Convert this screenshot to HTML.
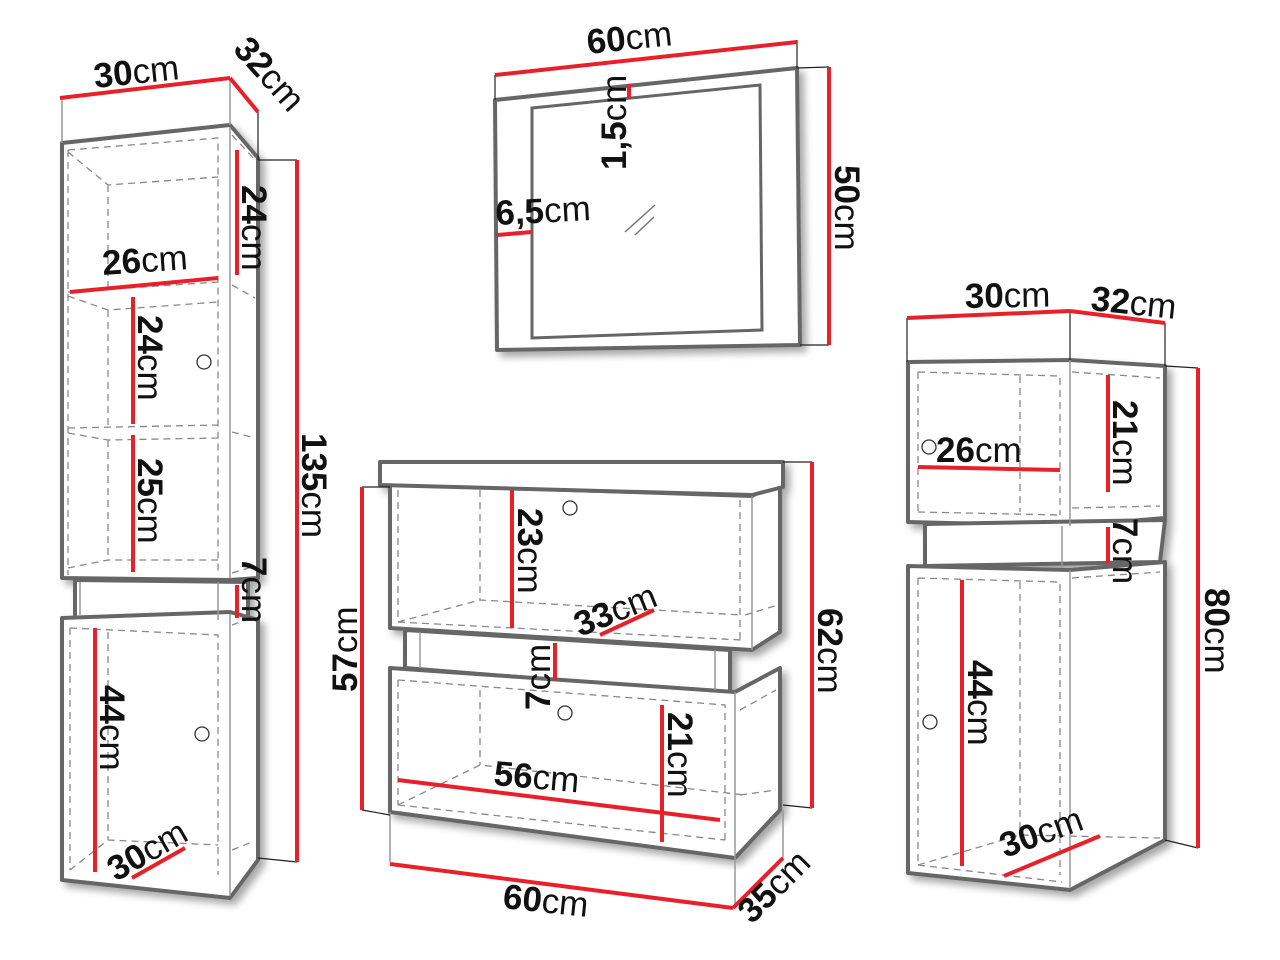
<!DOCTYPE html>
<html><head><meta charset="utf-8"><style>
html,body{margin:0;padding:0;background:#fff}
svg{display:block}
text{font-family:"Liberation Sans",sans-serif;font-size:35px;fill:#111}
.b{font-weight:bold}
.o{fill:#fff;stroke:#666;stroke-width:4;stroke-linejoin:round}
.i{fill:none;stroke:#999;stroke-width:1.5}
.d{fill:none;stroke:#888;stroke-width:1.3;stroke-dasharray:7 5}
.r{stroke:#e8202a;stroke-width:4;fill:none}
.k{stroke:#222;stroke-width:1.2;fill:none}
</style></head><body>
<svg width="1280" height="960" viewBox="0 0 1280 960" xmlns="http://www.w3.org/2000/svg">
<defs><filter id="s" x="-10%" y="-10%" width="130%" height="130%"><feGaussianBlur in="SourceAlpha" stdDeviation="4"/><feOffset dx="5" dy="5"/><feComponentTransfer><feFuncA type="linear" slope="0.35"/></feComponentTransfer><feMerge><feMergeNode/><feMergeNode in="SourceGraphic"/></feMerge></filter></defs>

<!-- ============ LEFT TALL CABINET ============ -->
<g filter="url(#s)">
<polygon class="o" points="62,143 230,125 258,158 258,578 230,580 62,578"/>
<polygon class="o" points="75,580 248,582 248,620 75,618"/>
<polygon class="o" points="62,618 230,612 258,620 258,860 230,898 62,880"/>
</g>
<line class="i" x1="230" y1="127" x2="230" y2="578"/>
<line class="i" x1="230" y1="614" x2="230" y2="896"/>
<line class="i" x1="62" y1="143" x2="62" y2="98"/><line class="i" x1="230" y1="125" x2="230" y2="78"/>
<line class="k" x1="258" y1="112" x2="258" y2="160"/>
<line class="i" x1="80" y1="582" x2="80" y2="616"/><line class="i" x1="218" y1="582" x2="218" y2="620"/>
<path class="d" d="M68,150 L218,138 L218,575 M68,150 L68,575 M68,152 L108,185 L218,177 M108,185 L108,290 M68,292 L218,282 M68,296 L108,310 L218,302 M108,310 L108,425 M68,428 L218,425 M68,433 L108,440 L218,438 M108,440 L108,560 M68,568 L108,560 L218,560 M232,135 L255,160 M232,285 L255,298 M232,432 L255,438 M232,573 L255,566"/>
<path class="d" d="M70,628 L218,635 L218,875 M70,628 L70,870 M108,632 L108,840 M70,870 L108,840 L218,845 M232,625 L252,618 M232,850 L252,842"/>
<circle cx="204" cy="362" r="7" fill="#fff" stroke="#333" stroke-width="1.3"/>
<circle cx="202" cy="734" r="7" fill="#fff" stroke="#333" stroke-width="1.3"/>
<line class="k" x1="258" y1="160" x2="297" y2="160"/><line class="k" x1="258" y1="858" x2="297" y2="862"/>
<line class="r" x1="60" y1="98" x2="230" y2="78"/>
<line class="r" x1="230" y1="78" x2="258" y2="112"/>
<line class="r" x1="70" y1="292" x2="218" y2="278"/>
<line class="r" x1="237" y1="150" x2="237" y2="275"/>
<line class="r" x1="133" y1="297" x2="133" y2="424"/>
<line class="r" x1="133" y1="435" x2="133" y2="572"/>
<line class="r" x1="237" y1="585" x2="237" y2="618"/>
<line class="r" x1="95" y1="628" x2="95" y2="872"/>
<line class="r" x1="132" y1="878" x2="185" y2="848"/>
<line class="r" x1="297" y1="160" x2="297" y2="862"/>
<text transform="translate(95,88) rotate(-6)"><tspan class="b">30</tspan>cm</text>
<text transform="translate(232,50) rotate(48)"><tspan class="b">32</tspan>cm</text>
<text transform="translate(103,275) rotate(-4)"><tspan class="b">26</tspan>cm</text>
<text transform="translate(242,185) rotate(90)"><tspan class="b">24</tspan>cm</text>
<text transform="translate(138,315) rotate(90)"><tspan class="b">24</tspan>cm</text>
<text transform="translate(138,458) rotate(90)"><tspan class="b">25</tspan>cm</text>
<text transform="translate(242,557) rotate(90)"><tspan class="b">7</tspan>cm</text>
<text transform="translate(100,685) rotate(90)"><tspan class="b">44</tspan>cm</text>
<text transform="translate(116,882) rotate(-30)"><tspan class="b">30</tspan>cm</text>
<text transform="translate(302,433) rotate(90)"><tspan class="b">135</tspan>cm</text>

<!-- ============ MIRROR ============ -->
<g filter="url(#s)">
<polygon class="o" points="495,100 797,68 800,345 497,350"/>
</g>
<polygon fill="none" stroke="#666" stroke-width="3" points="532,108 760,85 762,330 532,338"/>
<line class="k" x1="495" y1="75" x2="495" y2="100"/><line class="k" x1="797" y1="40" x2="797" y2="68"/>
<line class="k" x1="797" y1="68" x2="829" y2="67"/><line class="k" x1="800" y1="345" x2="829" y2="345"/>
<path d="M625,232 L655,205 M635,235 L654,217" stroke="#777" stroke-width="1.5"/>
<line class="r" x1="495" y1="75" x2="797" y2="42"/>
<line class="r" x1="829" y1="67" x2="829" y2="345"/>
<line class="r" x1="629" y1="84" x2="629" y2="98"/>
<line class="r" x1="497" y1="235" x2="532" y2="232"/>
<text transform="translate(588,54) rotate(-6)"><tspan class="b">60</tspan>cm</text>
<text transform="translate(626,170) rotate(-90)"><tspan class="b">1,5</tspan>cm</text>
<text transform="translate(496,225) rotate(-3)"><tspan class="b">6,5</tspan>cm</text>
<text transform="translate(835,165) rotate(90)"><tspan class="b">50</tspan>cm</text>

<!-- ============ MIDDLE UNIT ============ -->
<g filter="url(#s)">
<polygon class="o" points="390,484 752,496 780,480 780,632 752,650 390,628"/>
<polygon class="o" points="405,630 730,650 730,694 405,668"/>
<polygon class="o" points="390,668 735,692 780,668 780,810 735,858 390,812"/>
<polygon class="o" points="380,462 783,462 783,487 752,495 380,485"/>
</g>
<line class="i" x1="752" y1="496" x2="752" y2="650"/><line class="i" x1="735" y1="692" x2="735" y2="858"/>
<line class="i" x1="420" y1="632" x2="420" y2="668"/><line class="i" x1="715" y1="650" x2="715" y2="690"/>
<line class="i" x1="390" y1="812" x2="390" y2="862"/><line class="i" x1="735" y1="858" x2="735" y2="905"/>
<line class="i" x1="783" y1="810" x2="783" y2="858"/>
<path class="d" d="M398,490 L398,622 M480,490 L480,600 M398,622 L480,600 L742,615 M398,622 L742,640 M740,500 L740,640 M745,615 L778,605"/>
<path class="d" d="M398,680 L725,705 L725,845 M398,680 L398,805 M480,690 L480,765 M398,805 L480,765 L745,795 M398,805 L725,840 M740,710 L776,690 M740,795 L776,790"/>
<circle cx="570" cy="508" r="7" fill="#fff" stroke="#333" stroke-width="1.3"/>
<circle cx="565" cy="713" r="7" fill="#fff" stroke="#333" stroke-width="1.3"/>
<line class="k" x1="362" y1="487" x2="390" y2="487"/><line class="k" x1="362" y1="810" x2="390" y2="815"/>
<line class="k" x1="783" y1="462" x2="812" y2="462"/><line class="k" x1="783" y1="805" x2="812" y2="808"/>
<line class="r" x1="362" y1="487" x2="362" y2="810"/>
<line class="r" x1="812" y1="462" x2="812" y2="808"/>
<line class="r" x1="512" y1="490" x2="512" y2="628"/>
<line class="r" x1="600" y1="635" x2="654" y2="610"/>
<line class="r" x1="555" y1="643" x2="555" y2="680"/>
<line class="r" x1="398" y1="780" x2="720" y2="820"/>
<line class="r" x1="662" y1="705" x2="662" y2="842"/>
<line class="r" x1="390" y1="864" x2="733" y2="908"/>
<line class="r" x1="733" y1="908" x2="783" y2="858"/>
<text transform="translate(518,508) rotate(90)"><tspan class="b">23</tspan>cm</text>
<text transform="translate(580,637) rotate(-22)"><tspan class="b">33</tspan>cm</text>
<text transform="translate(550,710) rotate(-90)"><tspan class="b">7</tspan>cm</text>
<text transform="translate(493,785) rotate(5)"><tspan class="b">56</tspan>cm</text>
<text transform="translate(668,712) rotate(90)"><tspan class="b">21</tspan>cm</text>
<text transform="translate(357,692) rotate(-90)"><tspan class="b">57</tspan>cm</text>
<text transform="translate(818,608) rotate(90)"><tspan class="b">62</tspan>cm</text>
<text transform="translate(502,908) rotate(6)"><tspan class="b">60</tspan>cm</text>
<text transform="translate(752,925) rotate(-45)"><tspan class="b">35</tspan>cm</text>

<!-- ============ RIGHT UNIT ============ -->
<g filter="url(#s)">
<polygon class="o" points="908,362 1070,360 1165,366 1165,518 1070,526 908,522"/>
<polygon class="o" points="925,524 1165,520 1160,562 925,566"/>
<polygon class="o" points="908,566 1070,570 1165,562 1165,840 1070,890 908,873"/>
</g>
<line class="i" x1="1070" y1="360" x2="1070" y2="526"/><line class="i" x1="1070" y1="570" x2="1070" y2="888"/>
<line class="i" x1="1062" y1="526" x2="1062" y2="568"/>
<line class="k" x1="907" y1="318" x2="907" y2="362"/><line class="k" x1="1070" y1="311" x2="1070" y2="360"/>
<line class="k" x1="1165" y1="323" x2="1165" y2="366"/>
<line class="k" x1="1165" y1="366" x2="1198" y2="368"/><line class="k" x1="1165" y1="840" x2="1198" y2="848"/>
<path class="d" d="M918,372 L1060,376 L1060,515 M918,372 L918,512 M1020,376 L1020,512 M918,512 L1060,515 M1072,372 L1160,378 M1072,508 L1160,506"/>
<path class="d" d="M918,578 L1060,582 L1060,875 M918,578 L918,865 M1020,582 L1020,835 M918,865 L1020,835 L1160,838 M918,865 L1062,882 M1072,578 L1160,572"/>
<circle cx="929" cy="447" r="7" fill="#fff" stroke="#333" stroke-width="1.3"/>
<circle cx="930" cy="722" r="7" fill="#fff" stroke="#333" stroke-width="1.3"/>
<line class="r" x1="907" y1="318" x2="1070" y2="311"/>
<line class="r" x1="1070" y1="311" x2="1165" y2="323"/>
<line class="r" x1="918" y1="467" x2="1060" y2="470"/>
<line class="r" x1="1108" y1="375" x2="1108" y2="492"/>
<line class="r" x1="1108" y1="527" x2="1108" y2="563"/>
<line class="r" x1="962" y1="580" x2="962" y2="866"/>
<line class="r" x1="1004" y1="876" x2="1100" y2="836"/>
<line class="r" x1="1198" y1="368" x2="1198" y2="848"/>
<text transform="translate(965,308) rotate(-1)"><tspan class="b">30</tspan>cm</text>
<text transform="translate(1090,310) rotate(6)"><tspan class="b">32</tspan>cm</text>
<text transform="translate(936,462)"><tspan class="b">26</tspan>cm</text>
<text transform="translate(1113,400) rotate(90)"><tspan class="b">21</tspan>cm</text>
<text transform="translate(1113,518) rotate(90)"><tspan class="b">7</tspan>cm</text>
<text transform="translate(968,660) rotate(90)"><tspan class="b">44</tspan>cm</text>
<text transform="translate(1005,858) rotate(-20)"><tspan class="b">30</tspan>cm</text>
<text transform="translate(1205,588) rotate(90)"><tspan class="b">80</tspan>cm</text>
</svg>
</body></html>
